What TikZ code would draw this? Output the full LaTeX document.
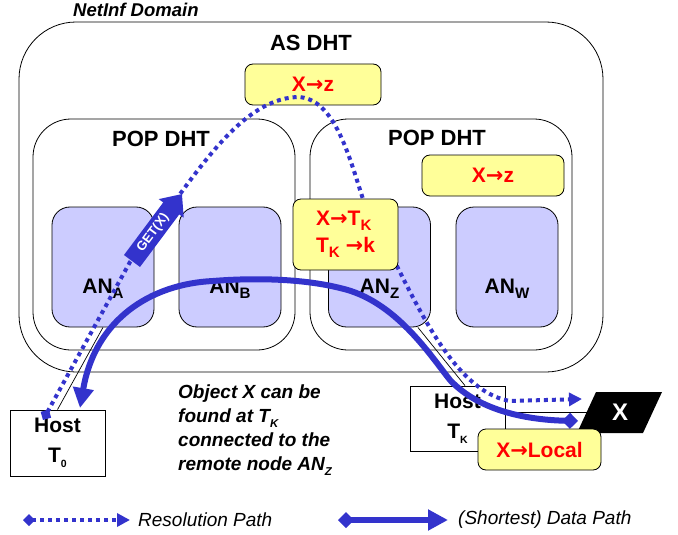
\documentclass[tikz,border=0pt]{standalone}
\usepackage{fontspec}
\usepackage{graphicx}
\setmainfont{Liberation Sans}
\newfontfamily\arrowfont{DejaVu Sans}
\usetikzlibrary{arrows.meta}

\definecolor{mapyellow}{RGB}{255,255,153}
\definecolor{anviolet}{RGB}{204,204,255}
\definecolor{pathblue}{RGB}{51,51,204}

\newcommand{\maparrow}{{\arrowfont\bfseries →}}
\newcommand{\lowsub}[2][0.72]{\raisebox{-0.25em}{\scalebox{#1}{#2}}}

\tikzset{
  dhtbox/.style={draw, line width=0.8pt, inner sep=0pt},
  dhtlabel/.style={font=\fontsize{22}{26}\selectfont\bfseries, anchor=base},
  anbox/.style={dhtbox, fill=anviolet, rounded corners=18pt, minimum width=102pt, minimum height=120pt},
  anlabel/.style={font=\fontsize{21}{24}\selectfont\bfseries, anchor=base},
  mapbox/.style={dhtbox, fill=mapyellow, rounded corners=8pt, text=red, font=\fontsize{21}{25}\selectfont\bfseries},
  hostbox/.style={dhtbox, minimum width=95pt, align=center, font=\fontsize{21}{30}\selectfont\bfseries},
  link/.style={line width=0.7pt},
  respath/.style={pathblue, line width=4pt, dash pattern=on 4pt off 4pt,
    {Diamond[length=12pt,width=12pt]}-{Triangle[length=13pt,width=13pt]}},
  datapath/.style={pathblue, line width=6pt,
    {Diamond[length=16pt,width=16pt]}-{Triangle[length=20pt,width=20pt]}},
  getarrow/.style={pathblue, line width=20pt, -{Triangle[length=18pt,width=30pt]}},
  note/.style={font=\fontsize{19}{24}\selectfont\bfseries\itshape, align=left, inner sep=0pt}
}

\begin{document}
\begin{tikzpicture}[x=1pt,y=-1pt]
\useasboundingbox (0,0) rectangle (678,535);

% nested DHT areas
\node[dhtbox, rounded corners=57pt, minimum width=584pt, minimum height=350pt] (domain) at (311,197) {};
\node[font=\fontsize{18.5}{22}\selectfont\bfseries\itshape, anchor=base west, inner sep=0pt] (domainlabel) at (73,17) {NetInf Domain};
\node[dhtlabel] (aslabel) at (311,51) {AS DHT};
\node[mapbox, minimum width=136pt, minimum height=41pt] (asmap) at (313,84.5) {X\maparrow z};

\node[dhtbox, rounded corners=38pt, minimum width=262pt, minimum height=231pt] (popL) at (164,234.5) {};
\node[dhtbox, rounded corners=38pt, minimum width=262pt, minimum height=231pt] (popR) at (441,234.5) {};
\node[dhtlabel] (popLlabel) at (161,146.5) {POP DHT};
\node[dhtlabel] (popRlabel) at (437,145.5) {POP DHT};

% access nodes
\node[anbox] (anA) at (103,267) {};
\node[anbox] (anB) at (230,267) {};
\node[anbox] (anZ) at (379.5,267) {};
\node[anbox] (anW) at (507,267) {};
\node[anlabel] (anAlabel) at (103,293) {AN\lowsub{A}};
\node[anlabel] (anBlabel) at (230,293) {AN\lowsub{B}};
\node[anlabel] (anZlabel) at (379.5,293) {AN\lowsub{Z}};
\node[anlabel] (anWlabel) at (507,293) {AN\lowsub{W}};

% hosts and the object
\node[hostbox, minimum height=66pt] (hostA) at (57.5,443) {Host\\T\lowsub[0.5]{0}};
\node[hostbox, minimum height=65pt] (hostK) at (457.5,418.5) {Host\\T\lowsub[0.5]{K}};
\draw[link] (anA.south) -- (hostA.north);
\draw[link] ([xshift=-13pt]anZ.south east) -- ([xshift=7.5pt]hostK.north);
\coordinate (objXa) at (596,392);
\coordinate (objXb) at (662,392);
\coordinate (objXc) at (643,433);
\coordinate (objXd) at (577,433);
\coordinate (objXw) at (587,412);
\fill (objXa) -- (objXb) -- (objXc) -- (objXd) -- cycle;
\node[text=white, font=\fontsize{24}{28}\selectfont\bfseries] (objX) at (620,412.5) {X};
\draw[link] ([yshift=6.5pt]hostK.east) -- (objXw);

% resolution path
\coordinate (resStart) at (43,420);
\coordinate (resEnd) at (582,399);
\draw[respath] (resStart) -- (130,262)
  .. controls (190,185) and (235,100) .. (297,97)
  .. controls (335,97) and (350,160) .. (363,199)
  .. controls (405,275) and (445,390) .. (510,401)
  -- (resEnd);

\node[mapbox, minimum width=142pt, minimum height=41pt] (mapZ) at (493,175.5) {X\maparrow z};
\node[mapbox, minimum width=105pt, minimum height=71pt, align=left, font=\fontsize{21}{27}\selectfont\bfseries] (mapK) at (345.5,234.5)
  {X\maparrow T\lowsub{K}\\T\lowsub{K} \maparrow k};

% request arrow
\coordinate (getTail) at (132,261);
\coordinate (getTip) at (182,194);
\draw[getarrow] (getTail) -- (getTip)
  node[pos=0.42, sloped, text=white, inner sep=0pt, font=\fontsize{13}{15}\selectfont\bfseries] (get) {GET(X)};

% data path
\coordinate (dataStart) at (578,421);
\coordinate (dataEnd) at (80,408);
\draw[datapath] (dataStart)
  .. controls (530,420) and (480,412) .. (450,380)
  .. controls (430,355) and (395,300) .. (340,288)
  .. controls (300,278) and (250,278) .. (213,281)
  .. controls (150,284) and (95,320) .. (dataEnd);

\node[mapbox, minimum width=123pt, minimum height=41pt] (local) at (539.5,449.5) {X\maparrow Local};

\node[note, anchor=north west] (findnote) at (178,385)
  {Object X can be\\found at T\lowsub[0.6]{K}\\connected to the\\remote node AN\lowsub[0.6]{Z}};

% legend
\coordinate (resKeyA) at (23,520);
\coordinate (resKeyB) at (130,520);
\coordinate (dataKeyA) at (338,520);
\coordinate (dataKeyB) at (448,520);
\draw[respath] (resKeyA) -- (resKeyB);
\draw[datapath] (dataKeyA) -- (dataKeyB);
\node[font=\fontsize{19}{22}\selectfont\itshape, anchor=west, inner sep=0pt] (resKey) at (138,520) {Resolution Path};
\node[font=\fontsize{19}{22}\selectfont\itshape, anchor=west, inner sep=0pt] (dataKey) at (458,520) {(Shortest) Data Path};
\end{tikzpicture}
\end{document}
